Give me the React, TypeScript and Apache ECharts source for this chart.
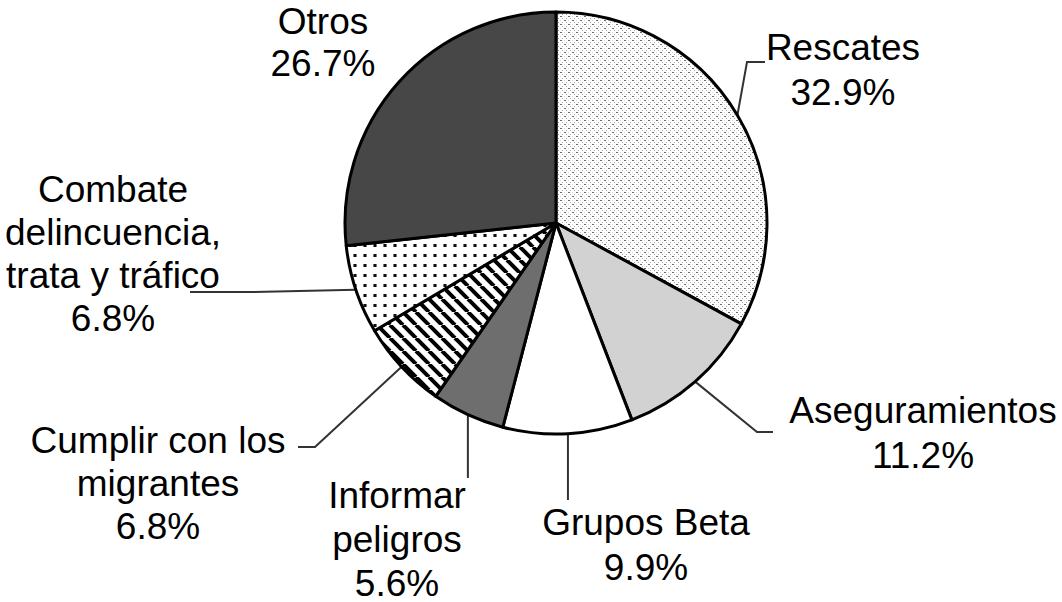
import React, { useEffect, useRef } from "react";
import * as echarts from "echarts";

const categories = [
  "Rescates",
  "Aseguramientos",
  "Grupos Beta",
  "Informar peligros",
  "Cumplir con los migrantes",
  "Combate delincuencia, trata y tráfico",
  "Otros",
];
const labelNames = [
  "Rescates",
  "Aseguramientos",
  "Grupos Beta",
  "Informar\npeligros",
  "Cumplir con los\nmigrantes",
  "Combate\ndelincuencia,\ntrata y tráfico",
  "Otros",
];
const values = [32.9, 11.2, 9.9, 5.6, 6.8, 6.8, 26.7];

// layout (page pixels)
const CX = 556;
const CY = 223;
const R = 211;
const labelPos: [number, number][] = [
  [843, 70],
  [923, 433],
  [646, 545],
  [397, 539],
  [158, 483],
  [113, 254],
  [323, 42],
];
const labelLineHeights = [45, 45, 45, 44, 43, 43, 42];
// leader line bends (after the slice-edge point); -1 = keep the edge x
const leaderBends: ([number, number][] | null)[] = [
  [[747, 62], [765, 62]],
  [[757, 432], [773, 432]],
  [[-1, 485], [-1, 500]],
  [[-1, 460], [-1, 478]],
  [[315, 447], [298, 447]],
  [[250, 292], [190, 292]],
  null,
];

function makeCanvas(w: number, h: number, draw: (c: CanvasRenderingContext2D) => void) {
  const cv = document.createElement("canvas");
  cv.width = w;
  cv.height = h;
  const ctx = cv.getContext("2d")!;
  ctx.fillStyle = "#ffffff";
  ctx.fillRect(0, 0, w, h);
  draw(ctx);
  return cv;
}

function patternRescates() {
  return makeCanvas(8, 8, (c) => {
    c.fillStyle = "#6a6a6a";
    c.fillRect(0, 0, 2, 1);
    c.fillRect(4, 4, 2, 1);
    c.fillStyle = "#a8a8a8";
    c.fillRect(2, 2, 1, 1);
    c.fillRect(6, 2, 1, 1);
    c.fillRect(2, 6, 1, 1);
    c.fillRect(6, 6, 1, 1);
    c.fillStyle = "#d0d0d0";
    c.fillRect(0, 4, 1, 1);
    c.fillRect(4, 0, 1, 1);
  });
}

function patternStripes() {
  const s = 13;
  return makeCanvas(s, s, (c) => {
    c.strokeStyle = "#000";
    c.lineWidth = 4;
    for (let k = -1; k <= 1; k++) {
      c.beginPath();
      c.moveTo(k * s, 0);
      c.lineTo(k * s + s, s);
      c.stroke();
    }
  });
}

function patternDots() {
  return makeCanvas(10, 10, (c) => {
    c.fillStyle = "#111";
    c.fillRect(4, 4, 2, 3);
    c.fillStyle = "#777";
    c.fillRect(3, 4, 1, 3);
    c.fillRect(6, 4, 1, 3);
  });
}

export default function App() {
  const ref = useRef<HTMLDivElement>(null);

  useEffect(() => {
    if (!ref.current) return;
    const chart = echarts.init(ref.current, undefined, { renderer: "svg" });

    const fills: any[] = [
      { image: patternRescates(), repeat: "repeat" },
      "#d2d2d2",
      "#ffffff",
      "#6e6e6e",
      { image: patternStripes(), repeat: "repeat" },
      { image: patternDots(), repeat: "repeat" },
      "#474747",
    ];

    const total = values.reduce((a, b) => a + b, 0);
    const cum: number[] = [];
    values.reduce((acc, v, i) => {
      cum[i] = acc;
      return acc + v;
    }, 0);
    const edgePoint = (i: number): [number, number] => {
      const a = ((cum[i] + values[i] / 2) / total) * 2 * Math.PI;
      return [CX + R * Math.sin(a), CY - R * Math.cos(a)];
    };

    chart.setOption({
      animation: false,
      backgroundColor: "#ffffff",
      series: [
        {
          type: "pie",
          center: [CX, CY],
          radius: R,
          startAngle: 90,
          clockwise: true,
          silent: true,
          emphasis: { disabled: true },
          itemStyle: { borderColor: "#000", borderWidth: 3 },
          data: categories.map((name, i) => ({
            name,
            value: values[i],
            itemStyle: { color: fills[i] },
            label: { lineHeight: labelLineHeights[i] },
            labelLine: { show: leaderBends[i] !== null },
          })),
          label: {
            show: true,
            formatter: (p: any) =>
              `${labelNames[p.dataIndex]}\n${Number(p.value).toFixed(1)}%`,
            fontFamily: "'Liberation Sans', Arial, sans-serif",
            fontSize: 37,
            color: "#000",
            align: "center",
          },
          labelLine: {
            show: true,
            lineStyle: { color: "#333", width: 2 },
          },
          labelLayout: (params: any) => {
            const i = params.dataIndex;
            const e = edgePoint(i);
            const res: any = {
              x: labelPos[i][0],
              y: labelPos[i][1],
              align: "center",
              verticalAlign: "middle",
            };
            const b = leaderBends[i];
            if (b) {
              res.labelLinePoints = [
                e,
                [b[0][0] < 0 ? e[0] : b[0][0], b[0][1]],
                [b[1][0] < 0 ? e[0] : b[1][0], b[1][1]],
              ];
            }
            return res;
          },
        },
      ],
    });

    return () => chart.dispose();
  }, []);

  return (
    <div
      ref={ref}
      style={{
        position: "absolute",
        left: 0,
        top: 0,
        width: 1062,
        height: 602,
        background: "#fff",
      }}
    />
  );
}
